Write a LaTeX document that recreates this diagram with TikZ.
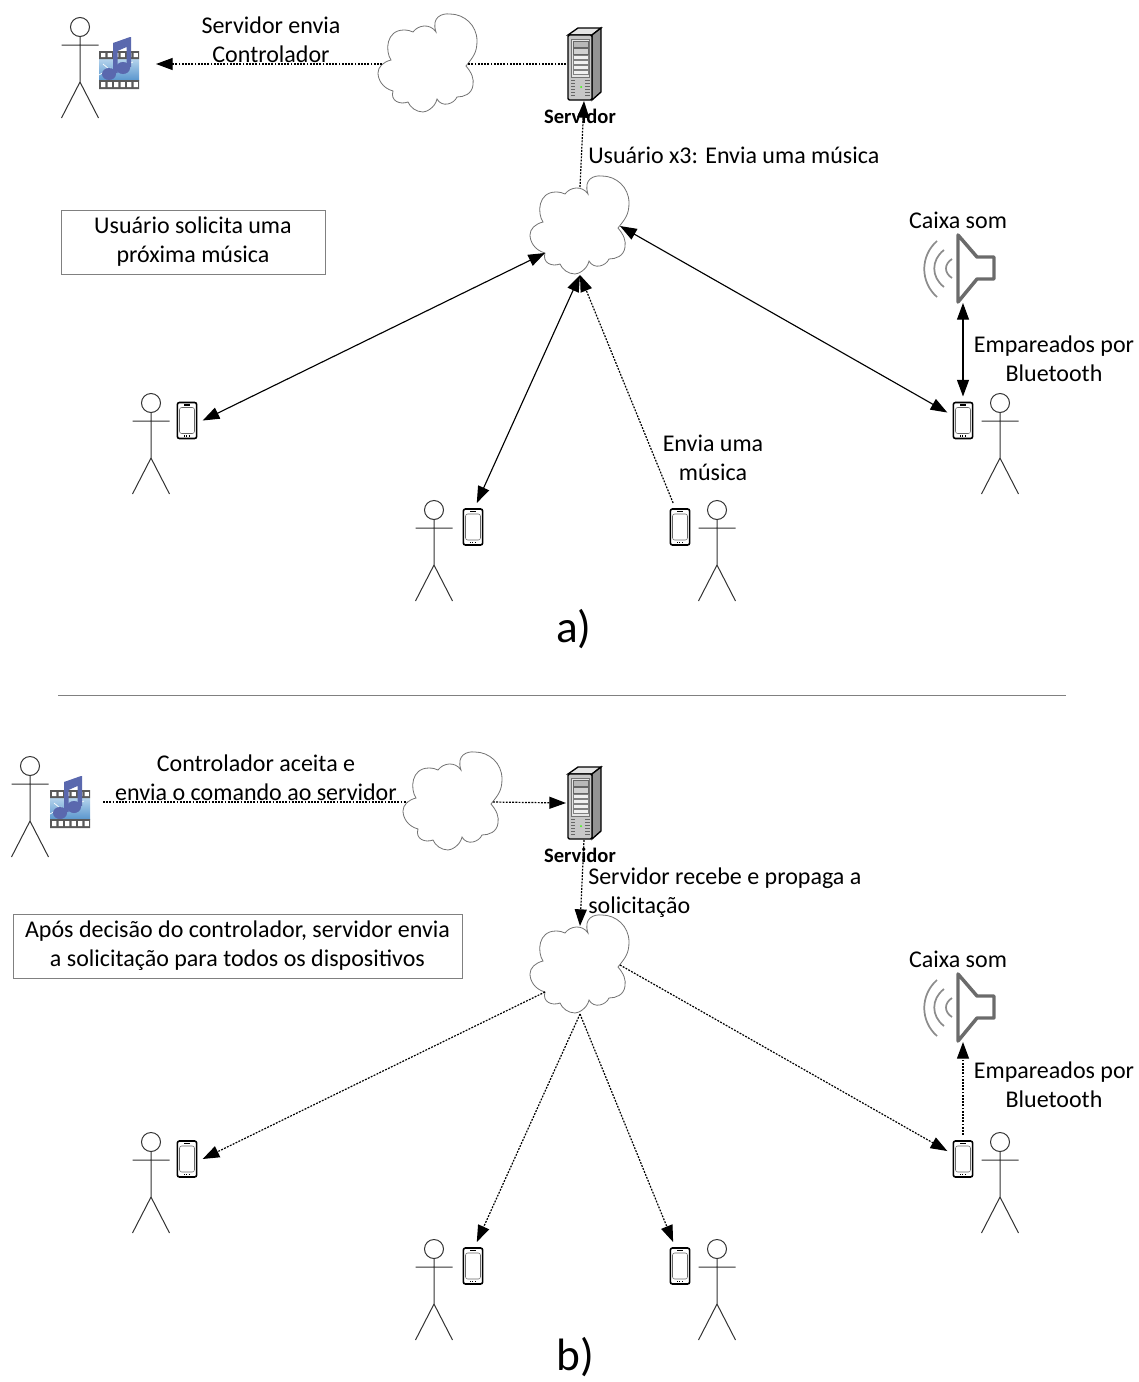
\documentclass[tikz,border=0pt]{standalone}
\usepackage{fontspec}
\setmainfont{Carlito}
\usepackage{xcolor}
\usetikzlibrary{arrows.meta,positioning}

\definecolor{filmblue}{HTML}{5B97CE}
\definecolor{filmlight}{HTML}{B4D3EC}
\definecolor{notecol}{HTML}{5A68AE}

\tikzset{
  actor/.pic={
    \draw[actorline] (0,0) circle (9.5);
    \draw[actorline] (0,9.5) -- (0,55) (-18.5,18) -- (18.5,18)
      (-18.5,91) -- (0,55) -- (18.5,91);
  },
  netcloud/.pic={
    \draw[draw=black!55,line width=.6pt,fill=white]
      (8,-31) .. controls (3,-46) and (14,-50) .. (22,-49)
      .. controls (36,-49) and (49,-38) .. (49,-22)
      .. controls (49,-10) and (45,-6) .. (38,3)
      .. controls (44,10) and (46,16) .. (45,22)
      .. controls (44,31) and (36,34) .. (29,34)
      .. controls (26,41) and (14,45) .. (9,36)
      .. controls (7,45) and (-2,49) .. (-5,49)
      .. controls (-12,49) and (-18,44) .. (-20,39)
      .. controls (-28,42) and (-38,38) .. (-35,28)
      .. controls (-46,25) and (-50,16) .. (-50,10)
      .. controls (-50,4) and (-45,-1) .. (-37,-3)
      .. controls (-43,-12) and (-42,-33) .. (-24,-33)
      .. controls (-20,-33) and (-17,-32) .. (-15,-31)
      .. controls (-10,-38) and (2,-40) .. (8,-31) -- cycle;
    \coordinate (-n) at (0,-38);
    \coordinate (-s) at (0,50);
    \coordinate (-w) at (-46,1);
    \coordinate (-e) at (40,1);
    \coordinate (-sw) at (-35,28);
  },
  server/.pic={
    \draw[srvline,fill=black!10] (-12,-29) -- (-2,-36) -- (21,-36) -- (12,-29) -- cycle;
    \draw[srvline,fill=black!42] (12,-29) -- (21,-36) -- (21,28) -- (12,36) -- cycle;
    \draw[srvline,fill=black!22,rounded corners=1pt] (-12,-29) rectangle (12,36);
    \draw[black!55,fill=black!10,line width=.4pt] (-9,-25) rectangle (9,13);
    \draw[black!60,fill=black!28,line width=.4pt] (-7,-23) rectangle (8,-17);
    \draw[black!60,fill=black!18,line width=.4pt] (-7,-16) rectangle (8,-10);
    \foreach \yy in {-9,-4,1,6}
      \draw[black!50,fill=black!6,line width=.4pt] (-7,\yy) rectangle (8,\yy+4);
    \foreach \yy in {16,19,...,31}
      \draw[black!60,line width=.6pt] (-9,\yy) -- (-5,\yy) (5,\yy) -- (10,\yy);
    \fill[green!80!yellow] (1,23) circle (1);
    \coordinate (-w) at (-14,0);
    \coordinate (-s) at (4,37);
  },
  speaker/.pic={
    \draw[line width=2.6pt,draw=black!58,line join=round]
      (0,-33) -- (19,-11) -- (36,-11) -- (36,11) -- (19,11) -- (0,34) -- cycle;
    \draw[line width=1.3pt,draw=black!45]
      (-21,-27) .. controls (-38,-12) and (-38,14) .. (-21,29)
      (-14,-18) .. controls (-27,-8) and (-27,9) .. (-14,19)
      (-6,-9) .. controls (-14,-4) and (-14,5) .. (-6,10);
    \coordinate (-s) at (5,35);
  },
  music/.pic={
    \shade[top color=filmlight,bottom color=filmblue] (-20,-11) rectangle (20,10);
    \draw[white,line width=.5pt] (-20,5) -- (-8,-2) (-16,-6) -- (-4,4) (-2,-1) -- (14,-8);
    \fill[black!65] (-20,-19) rectangle (20,-11) (-20,10) rectangle (20,19);
    \foreach \xx in {-18,-11.5,...,15}
      \fill[white] (\xx,-17) rectangle (\xx+4.4,-13) (\xx,12) rectangle (\xx+4.4,17);
    \fill[notecol] (-6,-27) -- (11,-33) -- (12,-33) -- (12,-3) -- (7.5,-3) -- (7.5,-23)
      -- (-1.5,-19) -- (-1.5,3) -- (-6,3) -- cycle;
    \fill[notecol] (-10,4) ellipse (7 and 6) (4,-2) ellipse (7 and 6);
    \coordinate (-e) at (37,-6);
    \coordinate (-f) at (33,-7);
  },
  actorline/.style={draw=black!80,line width=.75pt},
  srvline/.style={draw=black,line width=1pt},
  phone/.style={draw=black,line width=1.2pt,fill=white,rounded corners=1.6pt,
    minimum width=14.5pt,minimum height=27pt,inner sep=0pt,outer sep=4.5pt,
    path picture={
      \begin{scope}[shift={(path picture bounding box.center)}]
        \draw[black!60,line width=.4pt] (-7.5,-13) rectangle (7.5,13);
        \draw[black,line width=.8pt] (-3,-15.5) -- (3,-15.5);
        \draw[black,line width=.8pt,densely dotted] (-3,15.5) -- (3,15.5);
      \end{scope}
    }},
  txt/.style={font=\fontsize{18}{21.75}\selectfont,align=center,inner sep=0pt,text=black},
  srvlabel/.style={font=\fontsize{15.4}{18}\selectfont\bfseries,inner sep=0pt},
  infobox/.style={txt,draw=black!50,line width=.6pt,
    execute at begin node={\rule{0pt}{16.5pt}}},
  caption/.style={font=\fontsize{34}{38}\selectfont,inner sep=0pt},
  link/.style={<->,line width=.85pt},
  dotlink/.style={->,dash pattern=on 1.4pt off 1pt,line width=.9pt},
  dotplain/.style={dash pattern=on 1.4pt off 1pt,line width=.9pt},
  >={Triangle[length=12.5pt,width=9pt]}
}

\begin{document}
\begin{tikzpicture}[x=.75pt,y=-.75pt]
  \useasboundingbox (0,0) rectangle (1139,1382);

  % a)
  \pic at (80,27) {actor};
  \pic at (151,403) {actor};
  \pic at (434,510) {actor};
  \pic at (717,510) {actor};
  \pic at (1000,403) {actor};
  \pic (musicA) at (119,70) {music};
  \pic (cloudA) at (428,63) {netcloud};
  \pic (cloudB) at (580,225) {netcloud};
  \pic (serverA) at (580,64) {server};
  \pic (speakerA) at (958,268) {speaker};

  \node[phone] (phoneA) at (187,420.5) {};
  \node[phone] (phoneB) at (473,527) {};
  \node[phone] (phoneC) at (680,527) {};
  \node[phone] (phoneD) at (963,420.5) {};

  \node[txt] (sendCtrl) at (271,39.5) {Servidor envia\\Controlador};
  \node[srvlabel] (srvNameA) at (580,116) {Servidor};
  \node[txt,anchor=west] (userSend) at (588,155) {Usuário x3: Envia uma música};
  \node[infobox,minimum width=198pt,minimum height=48pt] (boxA) at (193,242)
    {Usuário solicita uma\\próxima música};
  \node[txt] (soundA) at (958,220) {Caixa som};
  \node[txt] (pairA) at (1054,358.5) {Empareados por\\Bluetooth};
  \node[txt] (sendSong) at (713,457.5) {Envia uma\\música};
  \node[caption] (capA) at (574,629) {a)};

  \draw[dotplain] (serverA-w) -- (cloudA-e);
  \draw[dotlink] (cloudA-w) -- (musicA-e);
  \draw[dotlink] (cloudB-n) -- (serverA-s);
  \draw[link] (phoneA.east) -- (cloudB-sw);
  \draw[link] (phoneB.81) -- (cloudB-s);
  \draw[dotlink] (phoneC.106) -- (cloudB-s);
  \draw[link] (phoneD.153) -- (cloudB-e);
  \draw[link] (phoneD.north) -- (speakerA-s);

  \node[minimum width=0pt,inner sep=0pt] (ruleL) at (58,695) {};
  \node[minimum width=0pt,inner sep=0pt] (ruleR) at (1066,695) {};
  \draw[draw=black!50,line width=.75pt] (ruleL) -- (ruleR);

  % b)
  \pic at (30,766) {actor};
  \pic at (151,1142) {actor};
  \pic at (434,1249) {actor};
  \pic at (717,1249) {actor};
  \pic at (1000,1142) {actor};
  \pic (musicB) at (70,809) {music};
  \pic (cloudC) at (453,801) {netcloud};
  \pic (cloudD) at (580,964) {netcloud};
  \pic (serverB) at (580,803) {server};
  \pic (speakerB) at (958,1007) {speaker};

  \node[phone] (phoneE) at (187,1159) {};
  \node[phone] (phoneF) at (473,1266) {};
  \node[phone] (phoneG) at (680,1266) {};
  \node[phone] (phoneH) at (963,1159) {};

  \node[txt] (acceptCtrl) at (256,777.5) {Controlador aceita e\\envia o comando ao servidor};
  \node[srvlabel] (srvNameB) at (580,855) {Servidor};
  \node[txt,anchor=west,align=left] (srvSpread) at (588,892.5) {Servidor recebe e propaga a\\solicitação};
  \node[infobox,minimum width=336.75pt,minimum height=48pt] (boxB) at (237.5,946)
    {Após decisão do controlador, servidor envia\\a solicitação para todos os dispositivos};
  \node[txt] (soundB) at (958,959) {Caixa som};
  \node[txt] (pairB) at (1054,1084.5) {Empareados por\\Bluetooth};
  \node[caption] (capB) at (575,1357) {b)};

  \draw[dotplain] (musicB-f) -- (cloudC-w);
  \draw[dotlink] (cloudC-e) -- (serverB-w);
  \draw[dotlink] (serverB-s) -- (cloudD-n);
  \draw[dotlink] (cloudD-sw) -- (phoneE.east);
  \draw[dotlink] (cloudD-s) -- (phoneF.81);
  \draw[dotlink] (cloudD-s) -- (phoneG.106);
  \draw[dotlink] (cloudD-e) -- (phoneH.153);
  \draw[dotlink] (phoneH.north) -- (speakerB-s);
\end{tikzpicture}
\end{document}
